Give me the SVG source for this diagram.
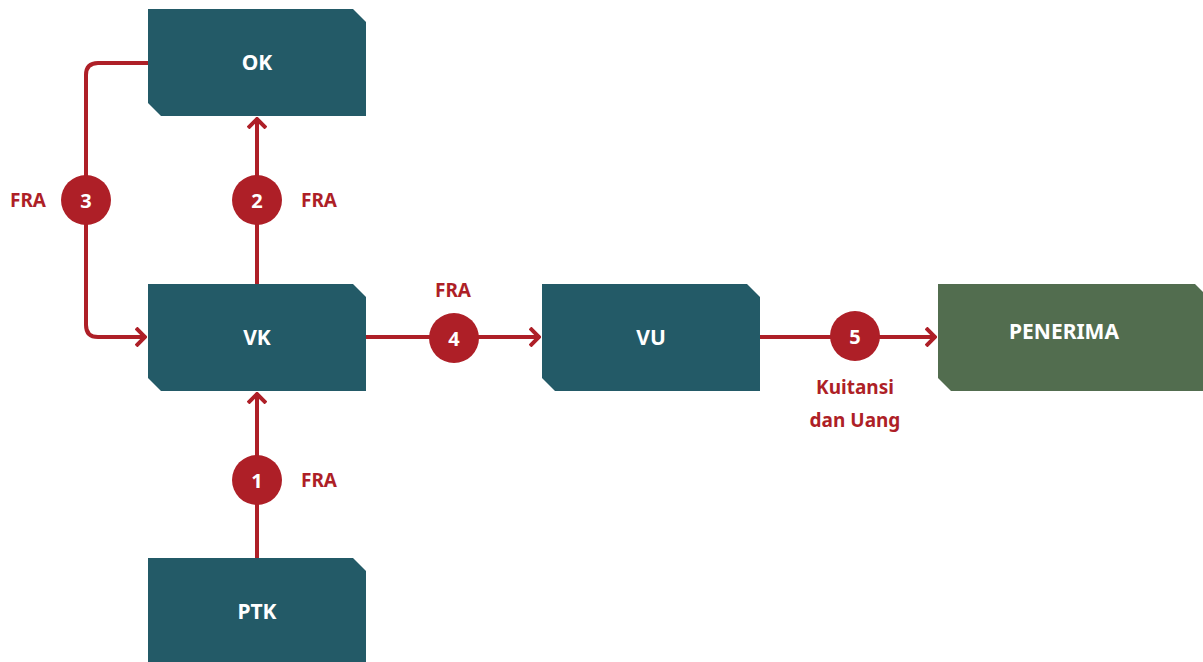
<svg xmlns="http://www.w3.org/2000/svg" width="1203" height="662" viewBox="0 0 1203 662">
<style>
.box{fill:#235a67}
.green{fill:#526d4f}
.lbl{font-family:"Noto Sans","Open Sans",sans-serif;font-weight:bold;font-size:21px;fill:#ffffff;text-anchor:middle;dominant-baseline:central}
.line{fill:none;stroke:#ae1f27;stroke-width:4}
.circ{fill:#ae1f27}
.num{font-family:"Noto Sans","Open Sans",sans-serif;font-weight:bold;font-size:20px;fill:#ffffff;text-anchor:middle;dominant-baseline:central}
.tag{font-family:"Noto Sans","Open Sans",sans-serif;font-weight:bold;font-size:19px;fill:#ae1f27;text-anchor:middle;dominant-baseline:central}
</style>
<defs>
<marker id="arr" viewBox="0 0 12 20" refX="11" refY="10" markerWidth="12" markerHeight="20" markerUnits="userSpaceOnUse" orient="auto">
<path d="M1,1 L10,10 L1,19" fill="none" stroke="#ae1f27" stroke-width="4"/>
</marker>
</defs>
<g id="connectors">
<path class="line" d="M148,63 H98 Q86,63 86,75 V325 Q86,337 98,337 H146" marker-end="url(#arr)"/>
<path class="line" d="M257,284 V118" marker-end="url(#arr)"/>
<path class="line" d="M257,558 V393" marker-end="url(#arr)"/>
<path class="line" d="M366,337 H540" marker-end="url(#arr)"/>
<path class="line" d="M760,337 H936" marker-end="url(#arr)"/>
</g>
<g id="OK">
<path class="box" d="M148,9 H353 L366,22 V116 H161 L148,103 Z"/>
<text class="lbl" x="257" y="62">OK</text>
</g>
<g id="VK">
<path class="box" d="M148,284 H353 L366,297 V391 H161 L148,378 Z"/>
<text class="lbl" x="257" y="337">VK</text>
</g>
<g id="VU">
<path class="box" d="M542,284 H747 L760,297 V391 H555 L542,378 Z"/>
<text class="lbl" x="651" y="337">VU</text>
</g>
<g id="PENERIMA">
<path class="green" d="M938,284 H1195 L1208,297 V391 H951 L938,378 Z"/>
<text class="lbl" x="1064" y="331">PENERIMA</text>
</g>
<g id="PTK">
<path class="box" d="M148,558 H353 L366,571 V662 H148 Z"/>
<text class="lbl" x="257" y="611">PTK</text>
</g>
<g id="step1">
<circle class="circ" cx="257" cy="480" r="25"/>
<text class="num" x="257" y="480">1</text>
<text class="tag" x="319" y="480">FRA</text>
</g>
<g id="step2">
<circle class="circ" cx="257" cy="200" r="25"/>
<text class="num" x="257" y="200">2</text>
<text class="tag" x="319" y="200">FRA</text>
</g>
<g id="step3">
<circle class="circ" cx="86" cy="200" r="25"/>
<text class="num" x="86" y="200">3</text>
<text class="tag" x="28" y="200">FRA</text>
</g>
<g id="step4">
<circle class="circ" cx="454" cy="338" r="25"/>
<text class="num" x="454" y="338">4</text>
<text class="tag" x="453" y="290">FRA</text>
</g>
<g id="step5">
<circle class="circ" cx="855" cy="336" r="25"/>
<text class="num" x="855" y="336">5</text>
<text class="tag" x="855" y="387">Kuitansi</text>
<text class="tag" x="855" y="420">dan Uang</text>
</g>
</svg>
